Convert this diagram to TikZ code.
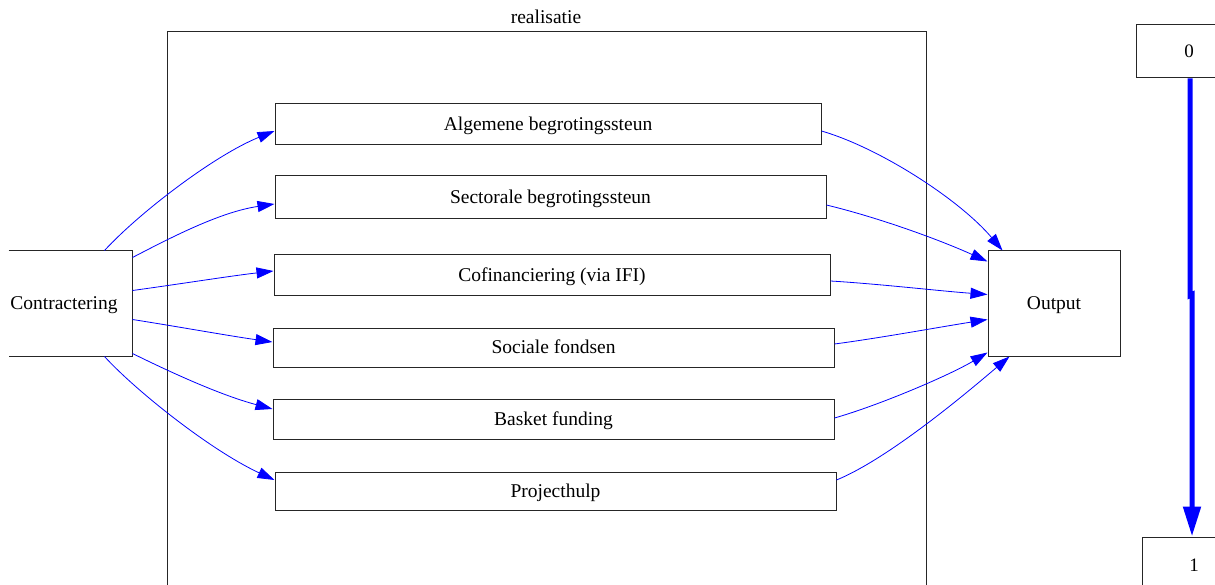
\documentclass[tikz,border=0pt]{standalone}
\usepackage{fontspec}
\setmainfont{Liberation Serif}
\usetikzlibrary{arrows.meta,calc}
\begin{document}
\begin{tikzpicture}[x=1pt,y=-1pt,
  box/.style={draw=black!85, line width=1pt, inner sep=0pt, text height=13pt, text depth=1pt, font=\fontsize{19.5}{22}\selectfont},
  numbox/.style={draw=black!85, line width=1pt, inner sep=0pt, text height=13pt, text depth=1pt, font=\fontsize{19}{22}\selectfont},
  flow/.style={draw=blue, line width=0.8pt, -{Triangle[length=17pt,width=11pt]}},
  bigflow/.style={draw=blue, line width=5pt, -{Triangle[length=30pt,width=17pt]}},
  cluster/.style={draw=black!85, line width=1pt}]
\useasboundingbox (0,0) rectangle (1215,585);
\clip (0,0) rectangle (1215,585);
\fill[white] (0,0) rectangle (1215,585);
% cluster
\draw[cluster] (167,32) rectangle (926,620);
\node[font=\fontsize{19.5}{22}\selectfont, text height=13pt, text depth=1pt] (lbl) at (546,18) {realisatie};
% nodes
\node[box, draw=none, minimum width=136pt, minimum height=105pt] (contr) at (64,303.5) {Contractering};
\draw[cluster] ($(contr.north west)+(13,0)$) -- (contr.north east) -- (contr.south east) -- ($(contr.south west)+(13,0)$);
\node[box, minimum width=546pt, minimum height=41pt] (alg) at (548,124.5) {Algemene begrotingssteun};
\node[box, minimum width=551pt, minimum height=43pt] (sect) at (550.5,197.5) {Sectorale begrotingssteun};
\node[box, minimum width=556pt, minimum height=41pt] (cof) at (552,275.5) {Cofinanciering (via IFI)};
\node[box, minimum width=561pt, minimum height=39pt] (soc) at (553.5,347.5) {Sociale fondsen};
\node[box, minimum width=561pt, minimum height=40pt] (bask) at (553.5,419) {Basket funding};
\node[box, minimum width=561pt, minimum height=38pt] (proj) at (555.5,491) {Projecthulp};
\node[box, minimum width=132pt, minimum height=105pt] (out) at (1054,303.5) {Output};
\node[numbox, minimum width=106pt, minimum height=53pt] (b0) at (1189,51.5) {0};
\node[numbox, minimum width=104pt, minimum height=56pt] (b1) at (1194,565) {1};
% edges from Contractering
\draw[flow] ($(contr.north east)+(-28,0)$) .. controls (140,212) and (215,155) .. ($(alg.west)+(0,6.5)$);
\draw[flow] ($(contr.north east)+(0,7)$) .. controls (170,238) and (220,212) .. ($(sect.west)+(0,6.5)$);
\draw[flow] ($(contr.north east)+(0,40)$) .. controls (180,284) and (230,276) .. ($(cof.west)+(0,-4.5)$);
\draw[flow] ($(contr.north east)+(0,69)$) .. controls (180,327) and (230,336) .. ($(soc.west)+(0,-5.5)$);
\draw[flow] ($(contr.south east)+(0,-3)$) .. controls (170,372) and (220,395) .. ($(bask.west)+(0,-10)$);
\draw[flow] ($(contr.south east)+(-28,0)$) .. controls (135,390) and (210,450) .. ($(proj.west)+(0,-11)$);
% edges to Output
\draw[flow] ($(alg.east)+(0,6.5)$) .. controls (880,148) and (960,200) .. ($(out.north west)+(15,0)$);
\draw[flow] ($(sect.east)+(0,7.5)$) .. controls (880,218) and (940,240) .. ($(out.north west)+(0,11)$);
\draw[flow] ($(cof.east)+(0,5.5)$) .. controls (880,284) and (940,291) .. ($(out.north west)+(0,44)$);
\draw[flow] ($(soc.east)+(0,-3.5)$) .. controls (880,338) and (940,327) .. ($(out.north west)+(0,69)$);
\draw[flow] ($(bask.east)+(0,-1)$) .. controls (880,405) and (950,375) .. ($(out.south west)+(0,-4)$);
\draw[flow] ($(proj.east)+(0,-11)$) .. controls (890,458) and (970,390) .. ($(out.south west)+(22,0)$);
% thick arrow
\draw[bigflow] ($(b0.south)+(1,0)$) -- ($(b0.south)+(1,217)$) -- ($(b1.north)+(-2,-242)$) -- ($(b1.north)+(-2,0)$);
\end{tikzpicture}
\end{document}
